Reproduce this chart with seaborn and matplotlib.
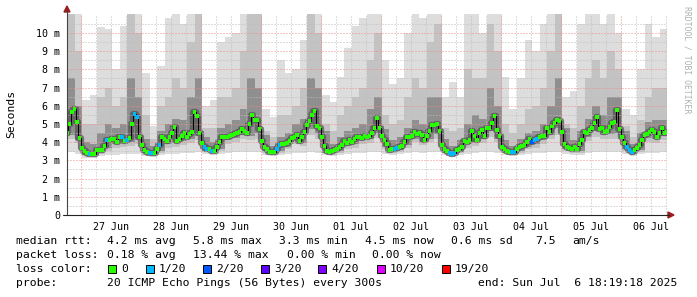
import numpy as np
import pandas as pd
import matplotlib
matplotlib.use("Agg")
import matplotlib.pyplot as plt
from matplotlib.patches import Rectangle, Polygon
from matplotlib.lines import Line2D
import seaborn as sns

# ---------------- data ----------------
# hours relative to 27 Jun 00:00 of the first median sample (26 Jun 18:19)
T0 = -5.68
# hourly median RTT (ms)
median_ms = [
    4.52, 4.98, 5.68, 5.8, 5.13, 4.25, 3.66, 3.52, 3.39, 3.35,
    3.35, 3.33, 3.57, 3.57, 3.57, 3.81, 4.1, 4.12, 4.16, 4.16,
    4.03, 4.3, 4.3, 4.08, 4.1, 4.25, 4.98, 5.53, 5.37, 4.27,
    3.83, 3.57, 3.48, 3.39, 3.39, 3.42, 3.63, 3.83, 4.27, 4.16,
    4.05, 4.27, 4.52, 4.82, 4.05, 4.16, 4.36, 4.49, 4.3, 4.43,
    4.54, 5.64, 5.44, 4.52, 3.94, 3.75, 3.63, 3.6, 3.53, 3.53,
    3.73, 3.99, 4.27, 4.3, 4.27, 4.33, 4.4, 4.44, 4.52, 4.57,
    4.73, 4.62, 4.49, 5.0, 5.49, 5.22, 5.22, 4.73, 4.05, 3.72,
    3.64, 3.48, 3.44, 3.48, 3.61, 3.83, 3.88, 3.88, 3.94, 4.07,
    4.25, 4.3, 4.38, 4.07, 4.3, 4.58, 4.95, 5.18, 5.49, 5.73,
    4.89, 4.76, 4.27, 3.79, 3.53, 3.46, 3.53, 3.57, 3.63, 3.73,
    3.83, 4.07, 3.94, 4.12, 4.01, 4.19, 4.27, 4.3, 4.25, 4.34,
    4.3, 4.34, 4.49, 4.8, 5.31, 4.76, 4.34, 4.12, 3.9, 3.57,
    3.6, 3.64, 3.66, 3.75, 3.81, 3.99, 4.27, 4.3, 4.36, 4.58,
    4.45, 4.52, 4.4, 4.12, 4.34, 4.62, 4.93, 4.96, 5.0, 4.62,
    3.85, 3.63, 3.53, 3.42, 3.35, 3.42, 3.57, 3.6, 3.75, 4.07,
    4.01, 4.12,
    4.63, 4.34, 4.12, 4.49, 4.67, 4.34, 4.8, 4.8, 5.04, 5.44,
    4.67, 4.34, 3.75, 3.63, 3.53, 3.46, 3.46, 3.46, 3.6, 3.75,
    3.79, 3.85, 4.01, 4.19, 4.01, 4.12, 4.16, 4.27, 4.34, 4.34,
    4.8, 4.58, 4.86, 5.04, 5.22, 5.18, 4.56, 3.9, 3.75, 3.66,
    3.6, 3.75, 3.6, 3.9, 4.12, 4.54, 4.49, 4.67, 4.8, 5.07,
    5.37, 4.71, 4.76, 4.58, 4.62, 4.82, 5.07, 5.13, 5.77, 4.71,
    4.3, 3.94, 3.75, 3.57, 3.44, 3.57, 3.66, 3.85, 4.12, 4.4,
    4.45, 4.58, 4.67, 4.58, 4.3, 4.52, 4.76, 4.52, 4.55,
]
# samples with packet loss (index into median_ms) and lost pings out of 20
loss_idx = [9, 16, 22, 24, 27, 28, 33, 34, 37, 55, 56, 58, 84, 85, 131, 132,
            153, 154, 155, 178, 179, 186, 187, 188, 224, 225, 226]
loss_cnt = [1, 1, 1, 1, 1, 1, 1, 1, 1, 1, 1, 1, 1, 1, 1, 1,
            1, 1, 1, 1, 1, 2, 1, 1, 1, 1, 1]

# smoke (3-hour blocks, ms): upper and lower edges of the grey bands
smoke_top_light = [
    11.1, 11.1, 6.3, 6.6, 10.3, 10.2, 8.0, 10.4, 11.1, 11.1,
    7.8, 4.9, 8.2, 10.8, 11.1, 10.5, 11.1, 11.1, 6.0, 6.3,
    9.5, 9.8, 10.0, 11.1, 11.1, 11.1, 5.8, 5.4, 8.5, 7.8,
    8.0, 9.6, 11.1, 11.1, 6.6, 6.2, 7.6, 9.2, 10.4, 10.8,
    11.1, 11.1, 8.5, 7.2, 7.5, 10.0, 11.1, 10.8, 11.1, 11.1,
    6.5, 7.3, 6.5, 11.1, 11.1, 10.0, 11.1, 11.1, 7.6, 5.8,
    7.5, 9.6, 9.0, 10.5, 11.1, 11.1, 6.5, 6.8, 10.5, 11.1,
    11.1, 10.5, 11.1, 10.0, 5.8, 5.5, 8.0, 10.5, 9.8, 10.2,
]
smoke_top_mid = [
    11.1, 9.0, 5.0, 5.0, 6.5, 7.0, 6.0, 6.5, 11.1, 10.0,
    5.5, 4.2, 6.0, 6.5, 7.5, 7.0, 9.5, 11.1, 4.8, 4.8,
    6.5, 6.5, 7.0, 9.0, 11.1, 11.1, 4.6, 4.3, 5.5, 5.5,
    6.0, 7.0, 11.1, 10.0, 5.0, 4.6, 5.5, 6.0, 6.5, 7.0,
    8.5, 10.0, 5.5, 5.0, 5.2, 6.5, 7.5, 7.0, 9.5, 10.5,
    4.8, 4.6, 4.8, 8.0, 7.5, 7.5, 10.5, 9.0, 5.0, 4.5,
    5.0, 5.8, 6.0, 7.0, 9.0, 11.1, 5.0, 4.8, 6.0, 7.5,
    8.5, 7.5, 9.0, 8.0, 4.9, 4.3, 5.2, 6.5, 7.0, 7.0,
]
smoke_top_dark = [
    7.5, 6.0, 4.0, 3.9, 4.5, 5.0, 4.8, 5.0, 7.5, 6.5,
    4.2, 3.8, 4.6, 5.0, 5.3, 5.2, 6.5, 7.5, 4.3, 4.0,
    4.8, 5.0, 5.2, 5.8, 7.5, 7.0, 4.4, 3.8, 4.3, 4.5,
    5.0, 5.3, 7.5, 7.0, 4.6, 3.9, 4.3, 4.6, 4.8, 5.0,
    5.8, 6.5, 4.7, 4.1, 4.3, 4.8, 5.2, 5.0, 6.5, 6.5,
    4.2, 3.8, 4.1, 5.0, 5.5, 5.3, 7.0, 6.0, 4.1, 3.8,
    4.2, 4.5, 4.6, 5.0, 6.0, 7.5, 4.8, 4.1, 4.6, 5.3,
    6.0, 5.5, 6.5, 6.5, 4.6, 3.9, 4.5, 5.1, 5.2, 5.2,
]
smoke_bot_dark = [
    4.4, 4.1, 3.3, 3.25, 3.45, 3.7, 3.9, 3.95, 4.0, 4.1,
    3.38, 3.3, 3.5, 3.9, 3.95, 4.05, 4.15, 4.35, 3.52, 3.45,
    3.6, 4.1, 4.25, 4.4, 4.35, 4.5, 3.52, 3.35, 3.5, 3.75,
    4.1, 3.95, 4.7, 4.5, 3.43, 3.38, 3.52, 3.8, 3.88, 4.1,
    4.15, 4.5, 3.75, 3.47, 3.55, 3.85, 4.2, 4.0, 4.2, 4.45,
    3.43, 3.28, 3.47, 3.88, 4.0, 4.2, 4.6, 4.2, 3.43, 3.37,
    3.5, 3.73, 3.88, 4.12, 4.4, 4.8, 3.62, 3.5, 3.5, 4.3,
    4.6, 4.4, 4.45, 4.5, 3.62, 3.35, 3.55, 4.25, 4.15, 4.35,
]
smoke_bot_mid = [
    4.2, 3.95, 3.25, 3.2, 3.35, 3.5, 3.7, 3.75, 3.8, 3.9,
    3.3, 3.25, 3.4, 3.7, 3.75, 3.85, 3.95, 4.1, 3.45, 3.38,
    3.5, 3.9, 4.0, 4.15, 4.1, 4.2, 3.42, 3.3, 3.4, 3.6,
    3.9, 3.8, 4.4, 4.2, 3.38, 3.32, 3.42, 3.65, 3.7, 3.9,
    3.95, 4.25, 3.6, 3.4, 3.45, 3.7, 4.0, 3.85, 4.0, 4.2,
    3.38, 3.25, 3.4, 3.7, 3.8, 3.95, 4.3, 4.0, 3.38, 3.32,
    3.42, 3.6, 3.7, 3.9, 4.15, 4.4, 3.5, 3.42, 3.42, 4.05,
    4.3, 4.15, 4.2, 4.2, 3.5, 3.3, 3.45, 4.0, 3.95, 4.1,
]
smoke_bot_light = [
    3.45, 3.35, 3.15, 3.15, 3.25, 3.3, 3.3, 3.35, 3.35, 3.35,
    3.25, 3.2, 3.3, 3.35, 3.35, 3.4, 3.4, 3.45, 3.35, 3.3,
    3.35, 3.4, 3.45, 3.45, 3.45, 3.45, 3.3, 3.25, 3.3, 3.35,
    3.4, 3.4, 3.45, 3.4, 3.3, 3.25, 3.3, 3.35, 3.4, 3.4,
    3.45, 3.45, 3.35, 3.3, 3.35, 3.4, 3.45, 3.4, 3.45, 3.45,
    3.3, 3.2, 3.3, 3.35, 3.4, 3.45, 3.45, 3.4, 3.3, 3.25,
    3.3, 3.35, 3.4, 3.4, 3.45, 3.45, 3.35, 3.3, 3.3, 3.4,
    3.45, 3.45, 3.45, 3.45, 3.35, 3.25, 3.35, 3.4, 3.4, 3.45,
]

day_labels = ["27 Jun", "28 Jun", "29 Jun", "30 Jun", "01 Jul",
              "02 Jul", "03 Jul", "04 Jul", "05 Jul", "06 Jul"]
y_values = [0, 1, 2, 3, 4, 5, 6, 7, 8, 9, 10]
y_labels = ["0", "1 m", "2 m", "3 m", "4 m", "5 m", "6 m", "7 m", "8 m", "9 m", "10 m"]
loss_levels = ["0", "1/20", "2/20", "3/20", "4/20", "10/20", "19/20"]
loss_counts = [0, 1, 2, 3, 4, 10, 19]
loss_colors = ["#26ff00", "#00b8ff", "#0059ff", "#5e00ff", "#7e00ff", "#dd00ff", "#ff0000"]

# ---------------- figure ----------------
W, H = 697, 297
def fx(px):
    return px / W
def fy(py):
    return 1 - py / H

sns.set_style("white")
plt.rcParams["font.family"] = ["DejaVu Sans Mono", "DejaVu Sans"]

fig = plt.figure(figsize=(W / 100, H / 100), dpi=100)
fig.patch.set_facecolor("white")
ax = fig.add_axes([fx(67), fy(215), 600 / W, 201 / H])
ax.set_xlim(T0, T0 + 240)
ax.set_ylim(0, 11.04)
ax.set_facecolor("white")

# smoke
edges = T0 + 3 * np.arange(len(smoke_top_light) + 1)
def ext(a):
    return list(a) + [a[-1]]
for lo, hi, c in [(smoke_bot_light, smoke_top_light, "#dddddd"),
                  (smoke_bot_mid, smoke_top_mid, "#c3c3c3"),
                  (smoke_bot_dark, smoke_top_dark, "#8f8f8f")]:
    ax.fill_between(edges, ext(lo), ext(hi), step="post", color=c, lw=0, zorder=1)

# grid
RED = "#f08a8a"
GREY = "#bdbdbd"
dots = (0, (1, 2))
for h in range(0, 240, 6):
    if T0 < h < T0 + 240:
        ax.axvline(h, color=RED if h % 24 == 0 else GREY, lw=0.72, ls=dots, zorder=2)
for k in range(1, 22):
    v = k * 0.5
    ax.axhline(v, color=RED if k % 2 == 0 else GREY, lw=0.72, ls=dots, zorder=2)

# median rtt coloured by loss
loss_full = [0] * len(median_ms)
for i, c in zip(loss_idx, loss_cnt):
    loss_full[i] = c
lvl_of = dict(zip(loss_counts, loss_levels))
df = pd.DataFrame({
    "hour": T0 + np.arange(len(median_ms)),
    "rtt": median_ms,
    "loss": [lvl_of[c] for c in loss_full],
})
palette = dict(zip(loss_levels, loss_colors))
# dark smoke core hugging the median
sns.lineplot(data=df, x="hour", y="rtt", color="#555555", lw=4.5, alpha=0.75,
             drawstyle="steps-mid", estimator=None, errorbar=None, ax=ax, zorder=1.5)
sns.lineplot(data=df, x="hour", y="rtt", color="black", lw=0.7,
             drawstyle="steps-mid", estimator=None, errorbar=None, ax=ax, zorder=3)
sns.scatterplot(data=df, x="hour", y="rtt", hue="loss", palette=palette,
                hue_order=loss_levels, marker="s", s=8, linewidth=0,
                legend=False, ax=ax, zorder=4)

# ticks
ax.set_xticks(12 + 24 * np.arange(len(day_labels)))
ax.set_xticklabels(day_labels)
ax.set_xticks([h for h in range(0, 240, 6) if h % 24 != 12 and h < T0 + 240], minor=True)
ax.set_yticks(y_values)
ax.set_yticklabels(y_labels)
ax.set_yticks(np.arange(0.5, 11, 1.0), minor=True)
ax.tick_params(axis="both", which="both", direction="out", color="#444444",
               width=0.7, labelsize=7.2, labelcolor="black")
ax.tick_params(axis="both", which="major", length=2.2, pad=2.6)
ax.tick_params(axis="both", which="minor", length=1.6)
ax.set_xlabel("")
ax.set_ylabel("")
for s in ax.spines.values():
    s.set_visible(False)

# axes lines and arrows
fig.add_artist(Line2D([fx(67), fx(67)], [fy(215), fy(10)], color="#444444", lw=0.8))
fig.add_artist(Line2D([fx(63), fx(669)], [fy(215), fy(215)], color="#222222", lw=0.8))
ARROW = "#9b1c1c"
fig.add_artist(Polygon([(fx(64), fy(12)), (fx(70), fy(12)), (fx(67), fy(6))],
                       closed=True, color=ARROW, transform=fig.transFigure))
fig.add_artist(Polygon([(fx(668), fy(212)), (fx(668), fy(218)), (fx(674), fy(215))],
                       closed=True, color=ARROW, transform=fig.transFigure))

# labels
fig.text(fx(11), fy(114), "Seconds", rotation=90, ha="center", va="center",
         fontsize=8.2, color="black")
fig.text(fx(687.5), fy(60), "RRDTOOL / TOBI OETIKER", rotation=270, ha="center",
         va="center", fontsize=5.9, color="#b0b0b0")

LF = 8.2
def ltext(x, y, s):
    fig.text(fx(x), fy(y), s, ha="left", va="center", fontsize=LF, color="black")

# line 1
for x, s in [(16, "median rtt:"), (107, "4.2 ms avg"), (193, "5.8 ms max"),
             (279, "3.3 ms min"), (365, "4.5 ms now"), (451, "0.6 ms sd"),
             (535, "7.5"), (572, "am/s")]:
    ltext(x, 241, s)
# line 2
for x, s in [(16, "packet loss:"), (107, "0.18 % avg"), (193, "13.44 % max"),
             (287, "0.00 % min"), (372, "0.00 % now")]:
    ltext(x, 255, s)
# line 3
ltext(16, 269, "loss color:")
sq_x = [108, 146, 203, 261, 318, 377, 442]
for x, lab, col in zip(sq_x, loss_levels, loss_colors):
    fig.add_artist(Rectangle((fx(x), fy(273)), 8 / W, 8 / H, facecolor=col,
                             edgecolor="black", lw=0.7, transform=fig.transFigure))
    ltext(x + 13, 269, lab)
# line 4
ltext(16, 283, "probe:")
ltext(107, 283, "20 ICMP Echo Pings (56 Bytes) every 300s")
ltext(478, 283, "end: Sun Jul  6 18:19:18 2025")

fig.savefig("out.png", dpi=100, facecolor="white")
